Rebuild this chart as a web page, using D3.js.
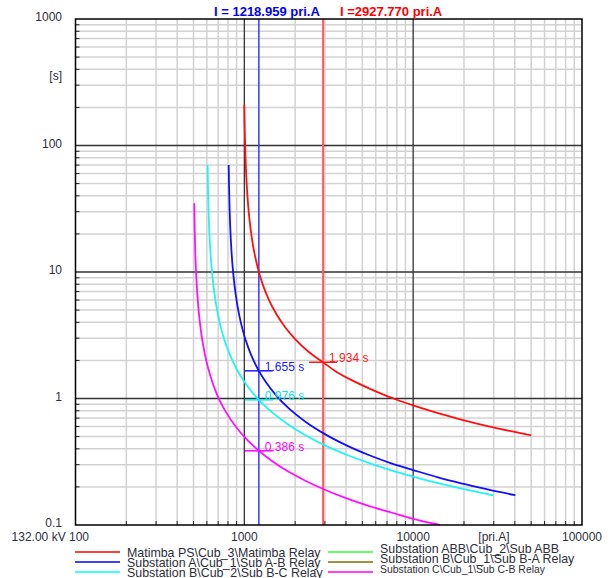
<!DOCTYPE html>
<html>
<head>
<meta charset="utf-8">
<script src="https://cdn.jsdelivr.net/npm/d3@7"></script>
<style>
  html, body { margin: 0; padding: 0; background: #ffffff; }
  svg { display: block; font-family: "Liberation Sans", Arial, sans-serif; }
</style>
</head>
<body>
<svg id="chart" width="612" height="578"></svg>
<script>
// ---------------- DATA ----------------
const xTickValues = [1000, 10000, 100000];
const xTickLabels = ["1000", "10000", "100000"];
const yTickValues = [1000, 100, 10, 1, 0.1];
const yTickLabels = ["1000", "100", "10", "1", "0.1"];

// Matimba PS\Cub_3\Matimba Relay (red)
const redI = [1000, 1003, 1008, 1015, 1025, 1040, 1060, 1090, 1130, 1170, 1219, 1300, 1400, 1550, 1750, 2000, 2400, 2928, 3500, 4500, 6000, 8000, 10000, 14000, 20000, 28000, 38000, 50000];
const redT = [210, 160, 116, 83.6, 60, 42.3, 30.5, 21.7, 15.7, 12.5, 10, 7.63, 6.0, 4.63, 3.64, 2.95, 2.34, 1.93, 1.63, 1.36, 1.14, 0.977, 0.881, 0.766, 0.673, 0.603, 0.551, 0.511];

// Substation A\Cub_1\Sub A-B Relay (blue)
const blueI = [808, 811, 816, 825, 840, 860, 890, 930, 980, 1050, 1130, 1219, 1350, 1550, 1850, 2300, 3000, 4000, 5500, 7500, 10000, 14000, 20000, 28000, 40300];
const blueT = [70, 51.2, 35.3, 22.7, 14.3, 9.67, 6.56, 4.64, 3.44, 2.57, 2.02, 1.655, 1.33, 1.05, 0.828, 0.656, 0.523, 0.428, 0.356, 0.306, 0.272, 0.238, 0.211, 0.190, 0.172];

// Substation B\Cub_2\Sub B-C Relay (cyan)
const cyanI = [606, 609, 613, 620, 632, 650, 675, 710, 760, 830, 920, 1050, 1219, 1450, 1800, 2300, 3000, 4000, 5500, 7500, 10000, 14000, 20000, 29850];
const cyanT = [70, 46.8, 32.5, 21.3, 13.4, 8.7, 5.91, 4.13, 2.94, 2.14, 1.62, 1.24, 0.976, 0.783, 0.628, 0.512, 0.426, 0.361, 0.308, 0.269, 0.241, 0.214, 0.192, 0.1715];

// Substation C\Cub_1\Sub C-B Relay (magenta)
const magI = [505, 508, 512, 520, 535, 555, 585, 630, 690, 780, 900, 1050, 1219, 1450, 1800, 2300, 3000, 4000, 5500, 7500, 10000, 14430];
const magT = [35, 21.9, 14.6, 8.84, 5.13, 3.32, 2.21, 1.50, 1.07, 0.777, 0.587, 0.464, 0.386, 0.3225, 0.267, 0.224, 0.190, 0.163, 0.141, 0.125, 0.112, 0.1];

// Cursor currents (title) and annotated trip times
const cursorCurrents = [1218.959, 2927.770];
const cursorLabels = ["I = 1218.959 pri.A", "I =2927.770 pri.A"];
const cursorColors = ["#0000ff", "#ff0000"];
const annotCurrents = [1218.959, 1218.959, 1218.959, 2927.770];
const annotTimes = [1.655, 0.976, 0.386, 1.934];
const annotLabels = ["1.655 s", "0.976 s", "0.386 s", "1.934 s"];
const annotColors = ["#1a1aff", "#00e8e8", "#ff00ff", "#ff1a1a"];

// Legend
const legendNames = [
  "Matimba PS\\Cub_3\\Matimba Relay",
  "Substation A\\Cub_1\\Sub A-B Relay",
  "Substation B\\Cub_2\\Sub B-C Relay",
  "Substation ABB\\Cub_2\\Sub ABB",
  "Substation B\\Cub_1\\Sub B-A Relay",
  "Substation C\\Cub_1\\Sub C-B Relay"
];
const legendColors = ["#ff0000", "#0000ff", "#00ffff", "#33ff33", "#807000", "#ff00ff"];

// ---------------- CHART ----------------
const svg = d3.select("#chart");
const L = 75.5, R = 582, T = 19, B = 525;
const x = d3.scaleLog().domain([100, 100000]).range([L, R]);
const y = d3.scaleLog().domain([0.1, 1000]).range([B, T]);
const labelColor = "#2e2e3a";

svg.append("defs").append("clipPath").attr("id", "plotclip")
  .append("rect").attr("x", L).attr("y", T).attr("width", R - L).attr("height", B - T);

// minor grid values
const xMinor = [], yMinor = [];
for (let e = 2; e < 5; e++) for (let m = 2; m <= 9; m++) xMinor.push(m * Math.pow(10, e));
for (let e = -1; e < 3; e++) for (let m = 2; m <= 9; m++) yMinor.push(m * Math.pow(10, e));
const xMajor = [1000, 10000];
const yMajor = [100, 10, 1];

const grid = svg.append("g");
grid.selectAll(".vmin").data(xMinor).enter().append("line")
  .attr("x1", d => x(d)).attr("x2", d => x(d)).attr("y1", T).attr("y2", B)
  .attr("stroke", "#d2d2d2").attr("stroke-width", 1.5);
grid.selectAll(".hmin").data(yMinor).enter().append("line")
  .attr("x1", L).attr("x2", R).attr("y1", d => y(d)).attr("y2", d => y(d))
  .attr("stroke", "#d2d2d2").attr("stroke-width", 1.5);
// small ticks on left and bottom edges
grid.selectAll(".ltick").data(yMinor).enter().append("line")
  .attr("x1", L).attr("x2", L + 4).attr("y1", d => y(d)).attr("y2", d => y(d))
  .attr("stroke", "#222").attr("stroke-width", 1);
grid.selectAll(".btick").data(xMinor).enter().append("line")
  .attr("x1", d => x(d)).attr("x2", d => x(d)).attr("y1", B).attr("y2", B - 4)
  .attr("stroke", "#222").attr("stroke-width", 1);
grid.selectAll(".vmaj").data(xMajor).enter().append("line")
  .attr("x1", d => x(d)).attr("x2", d => x(d)).attr("y1", T).attr("y2", B)
  .attr("stroke", "#333").attr("stroke-width", 1.3);
grid.selectAll(".hmaj").data(yMajor).enter().append("line")
  .attr("x1", L).attr("x2", R).attr("y1", d => y(d)).attr("y2", d => y(d))
  .attr("stroke", "#333").attr("stroke-width", 1.3);

// cursor vertical lines
svg.append("line").attr("x1", x(cursorCurrents[0])).attr("x2", x(cursorCurrents[0]))
  .attr("y1", T).attr("y2", B).attr("stroke", "#3a3aff").attr("stroke-width", 1.5);
svg.append("line").attr("x1", x(cursorCurrents[1])).attr("x2", x(cursorCurrents[1]))
  .attr("y1", T).attr("y2", B).attr("stroke", "#ff5a5a").attr("stroke-width", 2);

// curves
const line = d3.line().x(d => x(d[0])).y(d => y(d[1])).curve(d3.curveMonotoneX);
const curves = [
  [redI, redT, "#ff1010"],
  [blueI, blueT, "#1010ff"],
  [cyanI, cyanT, "#20f4f4"],
  [magI, magT, "#ff10ff"]
];
const cg = svg.append("g").attr("clip-path", "url(#plotclip)");
curves.forEach(([I, t, c]) => {
  cg.append("path").datum(I.map((v, i) => [v, t[i]]))
    .attr("d", line).attr("fill", "none").attr("stroke", c).attr("stroke-width", 1.8);
});

// annotations
const ag = svg.append("g");
annotCurrents.forEach((I, i) => {
  const px = x(I), py = y(annotTimes[i]);
  ag.append("line").attr("x1", px - 14).attr("x2", px + 14).attr("y1", py).attr("y2", py)
    .attr("stroke", annotColors[i]).attr("stroke-width", 1.5);
  ag.append("text").attr("x", px + 6).attr("y", py).attr("fill", annotColors[i])
    .attr("font-size", 12).text(annotLabels[i]);
});

// frame
svg.append("rect").attr("x", L).attr("y", T).attr("width", R - L).attr("height", B - T)
  .attr("fill", "none").attr("stroke", "#000").attr("stroke-width", 1.5);

// y axis labels
svg.selectAll(".ylab").data(yTickValues).enter().append("text")
  .attr("x", 62).attr("y", d => y(d) + 2).attr("text-anchor", "end")
  .attr("font-size", 12).attr("fill", labelColor)
  .text((d, i) => yTickLabels[i]);
svg.append("text").attr("x", 62).attr("y", 80).attr("text-anchor", "end")
  .attr("font-size", 12).attr("fill", labelColor).text("[s]");

// x axis labels
svg.selectAll(".xlab").data(xTickValues).enter().append("text")
  .attr("x", d => x(d)).attr("y", 541).attr("text-anchor", "middle")
  .attr("font-size", 12).attr("fill", labelColor)
  .text((d, i) => xTickLabels[i]);
svg.append("text").attr("x", 89).attr("y", 541).attr("text-anchor", "end")
  .attr("font-size", 12).attr("fill", labelColor).text("132.00 kV 100");
svg.append("text").attr("x", 494).attr("y", 541).attr("text-anchor", "middle")
  .attr("font-size", 12).attr("fill", labelColor).text("[pri.A]");

// title (cursor values)
svg.append("text").attr("x", 214).attr("y", 16).attr("font-size", 13).attr("font-weight", "bold")
  .attr("fill", cursorColors[0]).text(cursorLabels[0]);
svg.append("text").attr("x", 340).attr("y", 16).attr("font-size", 13).attr("font-weight", "bold")
  .attr("fill", cursorColors[1]).text(cursorLabels[1]);

// legend
const lg = svg.append("g");
legendNames.forEach((name, i) => {
  const col = Math.floor(i / 3), row = i % 3;
  const lx = col === 0 ? 75 : 328;
  const ly = 552 + row * 10;
  lg.append("line").attr("x1", lx).attr("x2", lx + 45).attr("y1", ly).attr("y2", ly)
    .attr("stroke", legendColors[i]).attr("stroke-width", 1.5);
  const t = lg.append("text").attr("x", lx + 52).attr("y", ly + (col === 0 ? 4.5 : 0.5))
    .attr("font-size", 12.4).attr("fill", labelColor).text(name);
  if (i === 5) t.attr("textLength", 165).attr("lengthAdjust", "spacingAndGlyphs").attr("font-size", 11);
});
</script>
</body>
</html>
